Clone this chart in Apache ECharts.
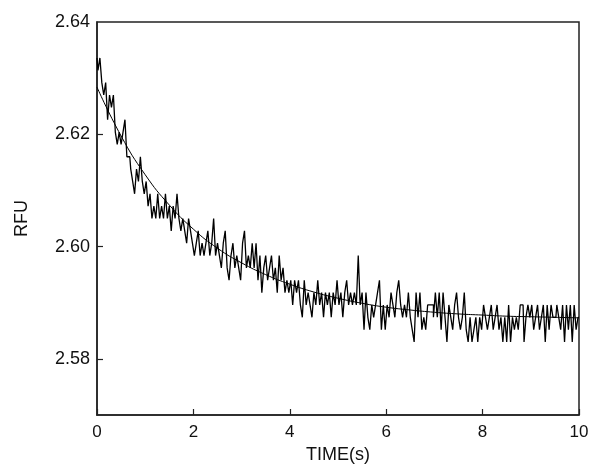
<!DOCTYPE html>
<html>
<head>
<meta charset="utf-8">
<script src="https://cdn.jsdelivr.net/npm/echarts@6/dist/echarts.min.js"></script>
<style>html,body{margin:0;padding:0;background:#fff}#c{width:600px;height:476px}</style>
</head>
<body>
<div id="c"></div>
<script>
// Time step of the recorded trace (s)
var traceStart = 0, traceStep = 0.04;
var traceRFU = [
2.6336,2.6314,2.6336,2.6292,2.6270,2.6292,2.6226,2.6270,2.6248,2.6270,2.6204,2.6182,2.6204,2.6182,2.6204,2.6226,2.6160,2.6160,2.6138,2.6116,2.6094,2.6138,2.6116,2.6160,2.6116,
2.6094,2.6116,2.6072,2.6094,2.6050,2.6072,2.6050,2.6094,2.6050,2.6072,2.6050,2.6094,2.6050,2.6072,2.6028,2.6072,2.6050,2.6094,2.6050,2.6028,2.6050,2.6028,2.6006,2.6050,2.6028,
2.6006,2.5984,2.6006,2.6028,2.5984,2.6006,2.5984,2.6006,2.6028,2.5984,2.6006,2.6050,2.5984,2.6006,2.5984,2.5962,2.6006,2.6028,2.5962,2.5940,2.5984,2.6006,2.5962,2.5984,2.5962,
2.5940,2.6006,2.6028,2.5962,2.5984,2.5962,2.6006,2.5962,2.6006,2.5940,2.5984,2.5918,2.5962,2.5984,2.5940,2.5962,2.5984,2.5940,2.5962,2.5918,2.5984,2.5940,2.5962,2.5918,2.5940,
2.5918,2.5940,2.5896,2.5940,2.5918,2.5940,2.5896,2.5874,2.5940,2.5896,2.5918,2.5896,2.5874,2.5918,2.5896,2.5940,2.5896,2.5918,2.5874,2.5918,2.5896,2.5918,2.5874,2.5918,2.5896,
2.5940,2.5896,2.5918,2.5874,2.5918,2.5940,2.5896,2.5918,2.5896,2.5918,2.5896,2.5984,2.5896,2.5918,2.5852,2.5918,2.5874,2.5852,2.5896,2.5874,2.5896,2.5918,2.5940,2.5852,2.5896,
2.5852,2.5896,2.5874,2.5918,2.5896,2.5874,2.5918,2.5940,2.5896,2.5874,2.5896,2.5874,2.5918,2.5874,2.5852,2.5830,2.5918,2.5874,2.5918,2.5852,2.5874,2.5852,2.5896,2.5896,2.5896,
2.5874,2.5918,2.5874,2.5918,2.5852,2.5918,2.5874,2.5830,2.5896,2.5874,2.5852,2.5896,2.5918,2.5874,2.5852,2.5874,2.5918,2.5852,2.5830,2.5874,2.5830,2.5852,2.5874,2.5830,2.5874,
2.5852,2.5896,2.5874,2.5852,2.5874,2.5896,2.5852,2.5874,2.5896,2.5852,2.5874,2.5830,2.5874,2.5830,2.5896,2.5830,2.5874,2.5852,2.5874,2.5852,2.5896,2.5896,2.5830,2.5874,2.5896,
2.5874,2.5896,2.5852,2.5874,2.5896,2.5852,2.5874,2.5896,2.5830,2.5896,2.5852,2.5896,2.5874,2.5874,2.5896,2.5874,2.5852,2.5896,2.5830,2.5896,2.5852,2.5896,2.5830,2.5896,2.5852,2.5874
];
// Fitted curve points
var fitTime = [0,0.5,1,1.5,2,2.5,3,3.5,4,4.5,5,5.5,6,6.5,7,7.5,8,8.5,9,9.5,10];
var fitRFU  = [2.6284,2.6197,2.6128,2.6074,2.6031,2.5997,2.5971,2.5950,2.5933,2.5919,2.5908,2.5899,2.5892,2.5887,2.5883,2.5880,2.5878,2.5876,2.5875,2.5874,2.5873];
// Axes
var xTicks = [0,2,4,6,8,10];
var yTicks = [2.58,2.60,2.62,2.64];
var yInnerTicks = [2.58,2.60,2.62];
var yMin = 2.57, yMax = 2.64;

var traceData = traceRFU.map(function(v,i){ return [+(traceStart + i*traceStep).toFixed(2), v]; });
var fitData = fitTime.map(function(t,i){ return [t, fitRFU[i]]; });

var font = 'Liberation Sans, Arial, Helvetica, sans-serif';
var chart = echarts.init(document.getElementById('c'), null, {renderer:'canvas'});
chart.setOption({
  animation:false,
  backgroundColor:'#fff',
  grid:{left:97,right:21,top:22,bottom:61,show:true,borderColor:'#222',borderWidth:1.5,backgroundColor:'transparent'},
  xAxis:{
    type:'value',min:xTicks[0],max:xTicks[xTicks.length-1],interval:2,
    name:'TIME(s)',nameLocation:'middle',nameGap:27,
    nameTextStyle:{fontFamily:font,fontSize:18,color:'#111'},
    axisLine:{show:true,lineStyle:{color:'#222',width:1.5}},
    axisTick:{show:true,inside:true,length:6,lineStyle:{color:'#222',width:1.2}},
    axisLabel:{fontFamily:font,fontSize:17,color:'#111',margin:9,formatter:function(v){return String(v);}},
    splitLine:{show:false}
  },
  yAxis:{
    type:'value',min:yMin,max:yMax,
    name:'RFU',nameLocation:'middle',nameGap:66,
    nameTextStyle:{fontFamily:font,fontSize:18,color:'#111'},
    axisLine:{show:true,lineStyle:{color:'#222',width:1.5}},
    axisTick:{show:true,inside:true,length:6,lineStyle:{color:'#222',width:1.2},customValues:yInnerTicks},
    axisLabel:{fontFamily:font,fontSize:18,color:'#111',margin:7,customValues:yTicks,formatter:function(v){return (+v).toFixed(2);}},
    splitLine:{show:false}
  },
  series:[
    {type:'line',data:traceData,symbol:'none',step:'middle',lineStyle:{color:'#000',width:1.3},z:2},
    {type:'line',data:fitData,symbol:'none',smooth:true,lineStyle:{color:'#000',width:1},z:3}
  ]
});
</script>
</body>
</html>
